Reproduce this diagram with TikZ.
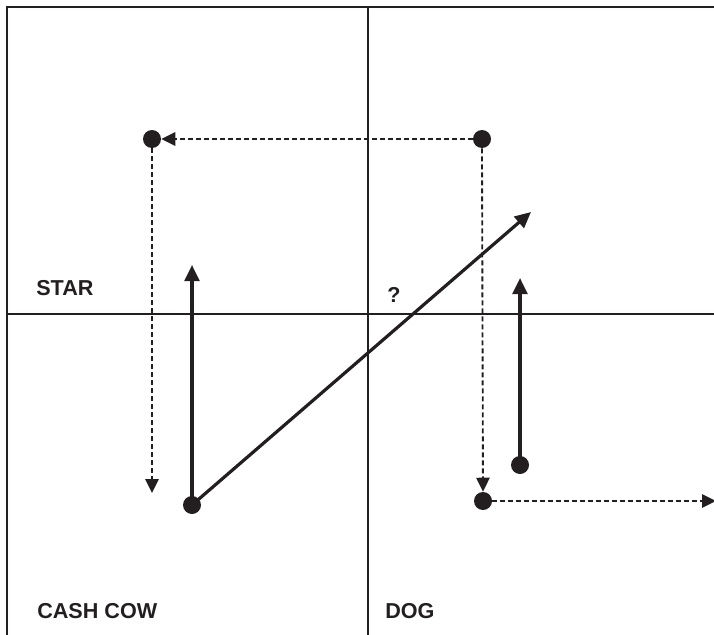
\documentclass[tikz,border=0pt]{standalone}
\usepackage{fontspec}
\setmainfont{Liberation Sans}
\usetikzlibrary{arrows.meta}
\definecolor{ink}{HTML}{231F20}

\begin{document}
\begin{tikzpicture}[x=0.75pt,y=-0.75pt,
    ink,
    frame/.style={line width=1.1pt},
    dot/.style={circle,fill=ink,inner sep=0pt,minimum size=13.5pt},
    flow/.style={line width=2.4pt,-{Triangle[length=12pt,width=11pt]}},
    move/.style={line width=1.4pt,dash pattern=on 3.8pt off 2.2pt,-{Triangle[length=10.5pt,width=10pt]}},
    quad/.style={anchor=base west,inner sep=0pt,font=\fontsize{16.2}{19}\selectfont\bfseries}]
        \useasboundingbox (0,0) rectangle (714,635);
        \draw[frame] (7,635) -- (7,7) -- (714,7);
        \draw[frame] (368,7) -- (368,635);
        \draw[frame] (7,314) -- (714,314);
        \node[quad] (star) at (36,295) {STAR};
        \node[quad] (query) at (387,302) {?};
        \node[quad] (cow) at (37,618) {CASH COW};
        \node[quad] (dog) at (385,618) {DOG};
        % dots
        \node[dot] (starold) at (152,139) {};
        \node[dot] (queryold) at (482,139) {};
        \node[dot] (cownow) at (192,505) {};
        \node[dot] (dognow) at (520,465) {};
        \node[dot] (dogold) at (483,501) {};
        \coordinate (starend) at (152,493);
        \coordinate (edge) at (716,501);
        \coordinate (cowup) at (192,265);
        \coordinate (cowout) at (531,212);
        \coordinate (dogup) at (520,278);
        % dashed moves
        \draw[move] (queryold) -- (starold);
        \draw[move] (starold) -- (starend);
        \draw[move] (queryold.south) -- (dogold);
        \draw[move] (dogold) -- (edge);
        % solid moves
        \draw[flow] (cownow.center) -- (cowup);
        \draw[flow] (cownow.center) -- (cowout);
        \draw[flow] (dognow.center) -- (dogup);
      \end{tikzpicture}
\end{document}
